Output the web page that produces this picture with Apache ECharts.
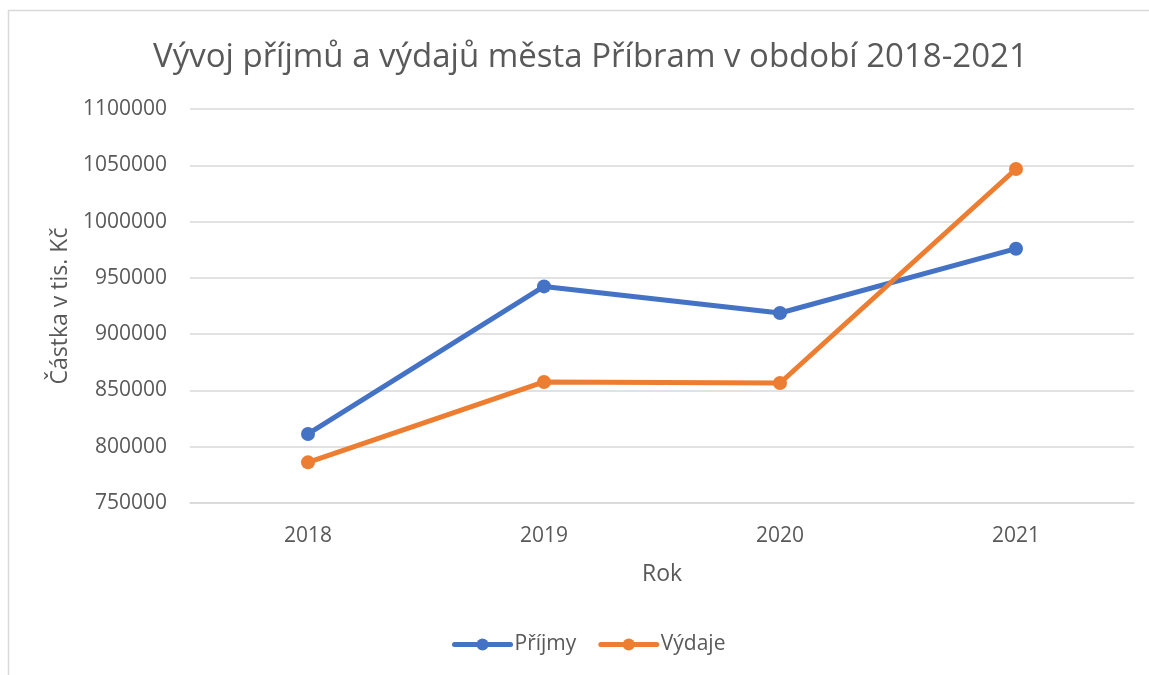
<!DOCTYPE html>
<html>
<head>
<meta charset="utf-8">
<script src="https://cdn.jsdelivr.net/npm/echarts@6/dist/echarts.min.js"></script>
<style>
html,body{margin:0;padding:0;background:#fff;}
#chart{width:1149px;height:675px;}
</style>
</head>
<body>
<div id="chart"></div>
<script>
const titleText = 'Vývoj příjmů a výdajů města Příbram v období 2018-2021';
const categories = ['2018', '2019', '2020', '2021'];
const prijmy = [811300, 942400, 918800, 975900];
const vydaje = [786100, 857500, 856600, 1046700];
const yTicks = { min: 750000, max: 1100000, interval: 50000 };
const xName = 'Rok';
const yName = 'Částka v tis. Kč';
const seriesNames = ['Příjmy', 'Výdaje'];

const FONT = '"Open Sans", sans-serif';
const TXT = '#595959';
const chart = echarts.init(document.getElementById('chart'));
chart.setOption({
  backgroundColor: '#fff',
  animation: false,
  title: {
    text: titleText,
    left: 148,
    top: 36,
    textStyle: { fontFamily: FONT, fontSize: 33, fontWeight: 'normal', color: TXT }
  },
  graphic: [{
    type: 'rect',
    shape: { x: 8.5, y: 10.5, width: 1200, height: 800 },
    style: { fill: 'none', stroke: '#d9d9d9', lineWidth: 1.5 },
    silent: true, z: -1
  }],
  legend: {
    bottom: 15,
    left: 447,
    itemWidth: 56,
    itemHeight: 15,
    itemGap: 22,
    lineStyle: { width: 5 },
    textStyle: { fontFamily: FONT, fontSize: 21, color: TXT, padding: [0, 0, 0, -1] },
    data: seriesNames
  },
  grid: { left: 190, right: 15, top: 109, bottom: 172, containLabel: false },
  xAxis: {
    type: 'category',
    data: categories,
    boundaryGap: true,
    name: xName,
    nameLocation: 'middle',
    nameGap: 60,
    nameTextStyle: { fontFamily: FONT, fontSize: 23, color: TXT },
    axisLine: { show: true, lineStyle: { color: '#d9d9d9', width: 1.5 } },
    axisTick: { show: false },
    axisLabel: { fontFamily: FONT, fontSize: 21, color: TXT, margin: 23 }
  },
  yAxis: {
    type: 'value',
    min: yTicks.min,
    max: yTicks.max,
    interval: yTicks.interval,
    name: yName,
    nameLocation: 'middle',
    nameGap: 112,
    nameTextStyle: { fontFamily: FONT, fontSize: 23, color: TXT },
    axisLine: { show: false },
    axisTick: { show: false },
    splitLine: { lineStyle: { color: '#d9d9d9', width: 1.5 } },
    axisLabel: { fontFamily: FONT, fontSize: 21, color: TXT, margin: 23, formatter: v => String(v) }
  },
  series: [
    {
      name: seriesNames[0], type: 'line', data: prijmy,
      symbol: 'circle', symbolSize: 14,
      itemStyle: { color: '#4472C4' },
      lineStyle: { color: '#4472C4', width: 5, cap: 'round' }
    },
    {
      name: seriesNames[1], type: 'line', data: vydaje,
      symbol: 'circle', symbolSize: 14,
      itemStyle: { color: '#ED7D31' },
      lineStyle: { color: '#ED7D31', width: 5, cap: 'round' }
    }
  ]
});
</script>
</body>
</html>
